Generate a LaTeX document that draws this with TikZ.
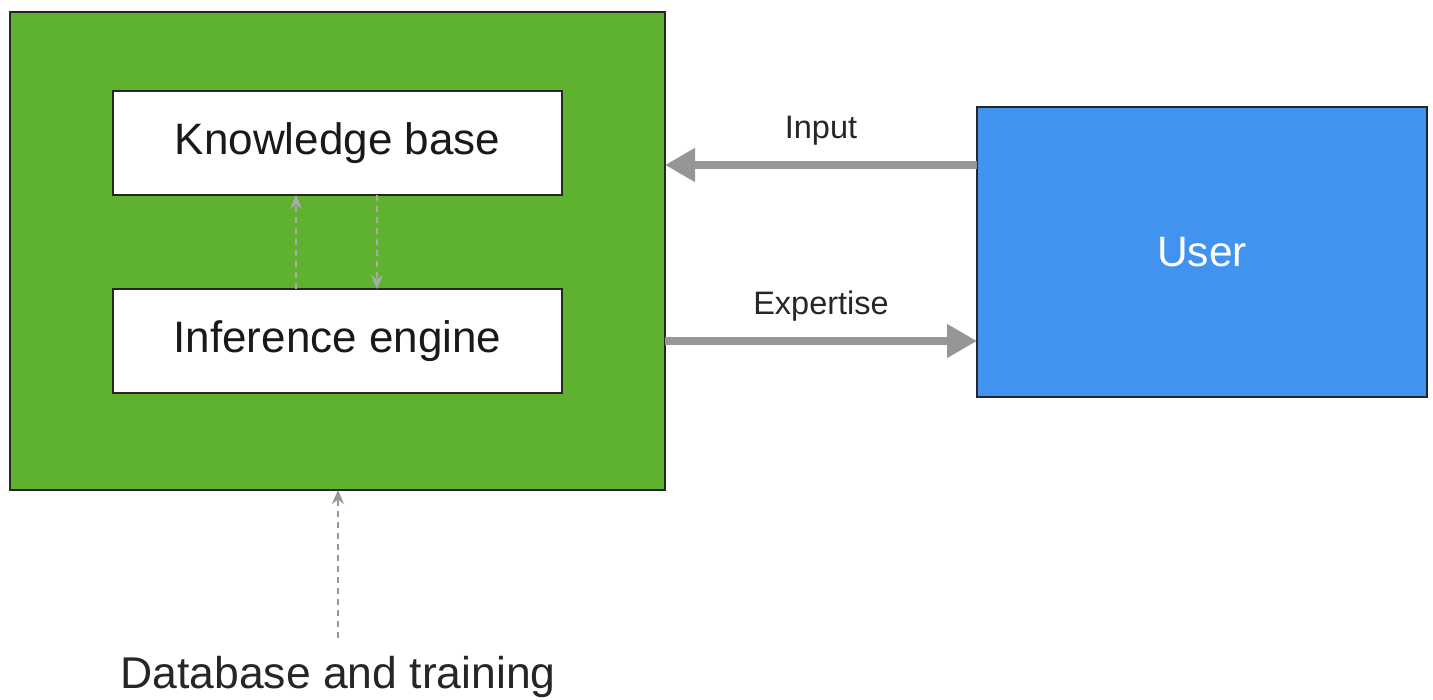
\documentclass[tikz,border=0pt]{standalone}
\usepackage{fontspec}
\setmainfont{Liberation Sans}
\usetikzlibrary{arrows.meta}
\definecolor{boxgreen}{RGB}{94,178,48}
\definecolor{userblue}{RGB}{66,146,240}
\definecolor{arrowgray}{RGB}{150,150,150}
\definecolor{dashgray}{RGB}{170,170,170}
\tikzset{
  panel/.style={draw=black!85, line width=1.5pt, inner sep=0pt, outer sep=0pt},
  whitebox/.style={panel, fill=white, minimum width=449pt, minimum height=104pt, font=\fontsize{44}{48}\selectfont, text=black!90},
  bigarrow/.style={draw=arrowgray, line width=8pt, -{Triangle[length=30pt,width=32pt]}},
  dasharrow/.style={draw=dashgray, line width=2pt, dash pattern=on 6pt off 5pt, -{Stealth[length=14pt,width=12pt]}},
  lbl/.style={font=\fontsize{32.5}{36}\selectfont, text=black!85}
}
\begin{document}
\begin{tikzpicture}[x=1pt,y=-1pt]
\useasboundingbox (0,0) rectangle (1433,700);
\node[panel, fill=boxgreen, minimum width=655pt, minimum height=478pt] (sys) at (337.5,251) {};
\node[whitebox] (kb) at (337.5,143) {Knowledge base};
\node[whitebox] (ie) at (337.5,341) {Inference engine};
\node[panel, fill=userblue, minimum width=450pt, minimum height=290pt, text=white, font=\fontsize{42.5}{46}\selectfont] (user) at (1202,252) {User};
\node[font=\fontsize{44.5}{48}\selectfont, text=black!85] (db) at (338,677) {Database and training};
\coordinate (dbtop) at (338,638);
\draw[bigarrow] (user.west |- 0,165) -- (sys.east |- 0,165) node[lbl, midway, above=12pt] (inlbl) {Input};
\draw[bigarrow] (sys.east |- 0,341) -- (user.west |- 0,341) node[lbl, midway, above=12pt] (exlbl) {Expertise};
\draw[dasharrow] (ie.north -| 296,0) -- (kb.south -| 296,0);
\draw[dasharrow] (kb.south -| 377,0) -- (ie.north -| 377,0);
\draw[dasharrow, draw=arrowgray] (dbtop) -- (sys.south -| dbtop);
\end{tikzpicture}
\end{document}
